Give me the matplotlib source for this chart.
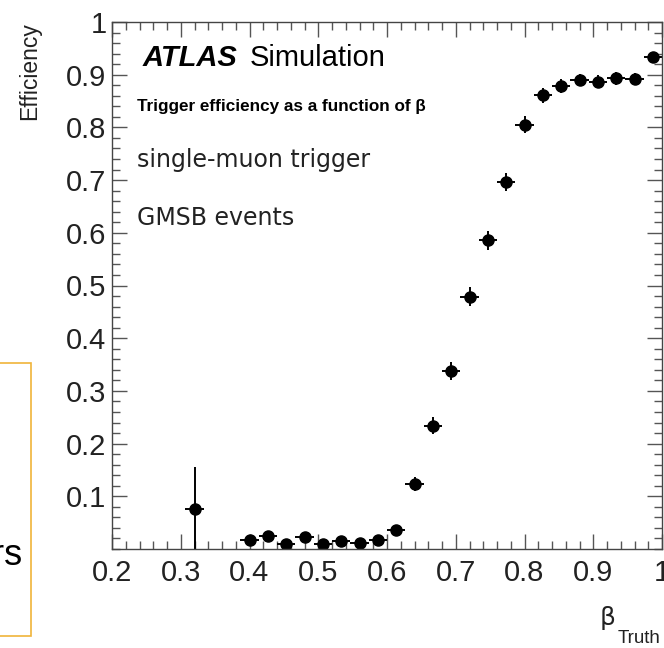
import matplotlib
matplotlib.use("Agg")
import matplotlib.pyplot as plt
from matplotlib.patches import Rectangle
from matplotlib.ticker import MultipleLocator, FixedLocator, FixedFormatter

# bin centres (beta truth), efficiency and errors
beta = [0.320, 0.400, 0.427, 0.453, 0.480, 0.507, 0.533, 0.560, 0.587, 0.613,
        0.640, 0.667, 0.693, 0.720, 0.747, 0.773, 0.800, 0.827, 0.853, 0.880,
        0.907, 0.933, 0.960, 0.987]
eff = [0.076, 0.018, 0.025, 0.010, 0.022, 0.009, 0.015, 0.012, 0.018, 0.037,
       0.123, 0.234, 0.337, 0.479, 0.586, 0.697, 0.805, 0.861, 0.879, 0.890,
       0.887, 0.893, 0.892, 0.934]
err_lo = [0.076, 0.008, 0.009, 0.006, 0.008, 0.005, 0.006, 0.006, 0.007, 0.009,
          0.013, 0.016, 0.017, 0.018, 0.018, 0.017, 0.016, 0.014, 0.013, 0.012,
          0.012, 0.012, 0.012, 0.010]
err_hi = [0.080, 0.008, 0.009, 0.006, 0.008, 0.005, 0.006, 0.006, 0.007, 0.009,
          0.013, 0.016, 0.017, 0.018, 0.018, 0.017, 0.016, 0.014, 0.013, 0.012,
          0.012, 0.012, 0.012, 0.010]
half_bin = [0.0133] * len(beta)

xticks = [0.2, 0.3, 0.4, 0.5, 0.6, 0.7, 0.8, 0.9, 1.0]
xlabels = ["0.2", "0.3", "0.4", "0.5", "0.6", "0.7", "0.8", "0.9", "1"]
yticks = [0.1, 0.2, 0.3, 0.4, 0.5, 0.6, 0.7, 0.8, 0.9, 1.0]
ylabels = ["0.1", "0.2", "0.3", "0.4", "0.5", "0.6", "0.7", "0.8", "0.9", "1"]

plt.rcParams['font.family'] = ['Liberation Sans', 'DejaVu Sans']

fig = plt.figure(figsize=(6.64, 6.48), dpi=100)
ax = fig.add_axes([112 / 664, 1 - 549 / 648, 550 / 664, 527 / 648])

ax.errorbar(beta, eff, yerr=[err_lo, err_hi], xerr=half_bin, fmt='o',
            color='black', ms=8, elinewidth=1.4, capsize=0, clip_on=True)

ax.set_xlim(0.2, 1.0)
ax.set_ylim(0.0, 1.0)

ax.xaxis.set_major_locator(FixedLocator(xticks))
ax.xaxis.set_major_formatter(FixedFormatter(xlabels))
ax.xaxis.set_minor_locator(MultipleLocator(0.02))
ax.yaxis.set_major_locator(FixedLocator(yticks))
ax.yaxis.set_major_formatter(FixedFormatter(ylabels))
ax.yaxis.set_minor_locator(MultipleLocator(0.02))

ax.tick_params(which='both', direction='in', top=True, right=True,
               color='#555555', width=1.0)
ax.tick_params(which='major', length=11, labelsize=21, labelcolor='#222222')
ax.tick_params(axis='y', which='major', pad=4)
ax.tick_params(axis='x', which='major', pad=7)
ax.tick_params(which='minor', length=5.5)
for s in ax.spines.values():
    s.set_color('#444444')
    s.set_linewidth(1.0)

# axis titles
fig.text(30 / 664, 1 - 22 / 648, "Efficiency", rotation=90, ha='center',
         va='top', fontsize=16.5, color='#222222')
fig.text(615 / 664, 1 - 625 / 648, "β", ha='right', va='baseline',
         fontsize=18, family='DejaVu Sans', color='#222222')
fig.text(661 / 664, 1 - 643 / 648, "Truth", ha='right', va='baseline',
         fontsize=13.5, color='#222222')

# labels inside the frame
ax.text(143 / 664, 1 - 66 / 648, "ATLAS", transform=fig.transFigure,
        fontsize=21, fontweight='bold', fontstyle='italic', va='baseline')
ax.text(250 / 664, 1 - 66 / 648, "Simulation", transform=fig.transFigure,
        fontsize=21, va='baseline')
ax.text(137 / 664, 1 - 111 / 648, "Trigger efficiency as a function of β",
        transform=fig.transFigure, fontsize=12.3, fontweight='bold',
        va='baseline')
ax.text(137 / 664, 1 - 167 / 648, "single-muon trigger",
        transform=fig.transFigure, fontsize=17, family='DejaVu Sans',
        color='#222222', va='baseline')
ax.text(137 / 664, 1 - 225 / 648, "GMSB events",
        transform=fig.transFigure, fontsize=17, family='DejaVu Sans',
        color='#222222', va='baseline')

# leftover slide box at the left edge
fig.patches.append(Rectangle((-8 / 664, 1 - 636 / 648), 39.5 / 664, 273 / 648,
                             transform=fig.transFigure, fill=False,
                             edgecolor='#F0B43A', linewidth=1.2))
fig.text(23 / 664, 1 - 565 / 648, "ers", ha='right', va='baseline',
         fontsize=26, color='black')

fig.savefig("out.png", dpi=100)
